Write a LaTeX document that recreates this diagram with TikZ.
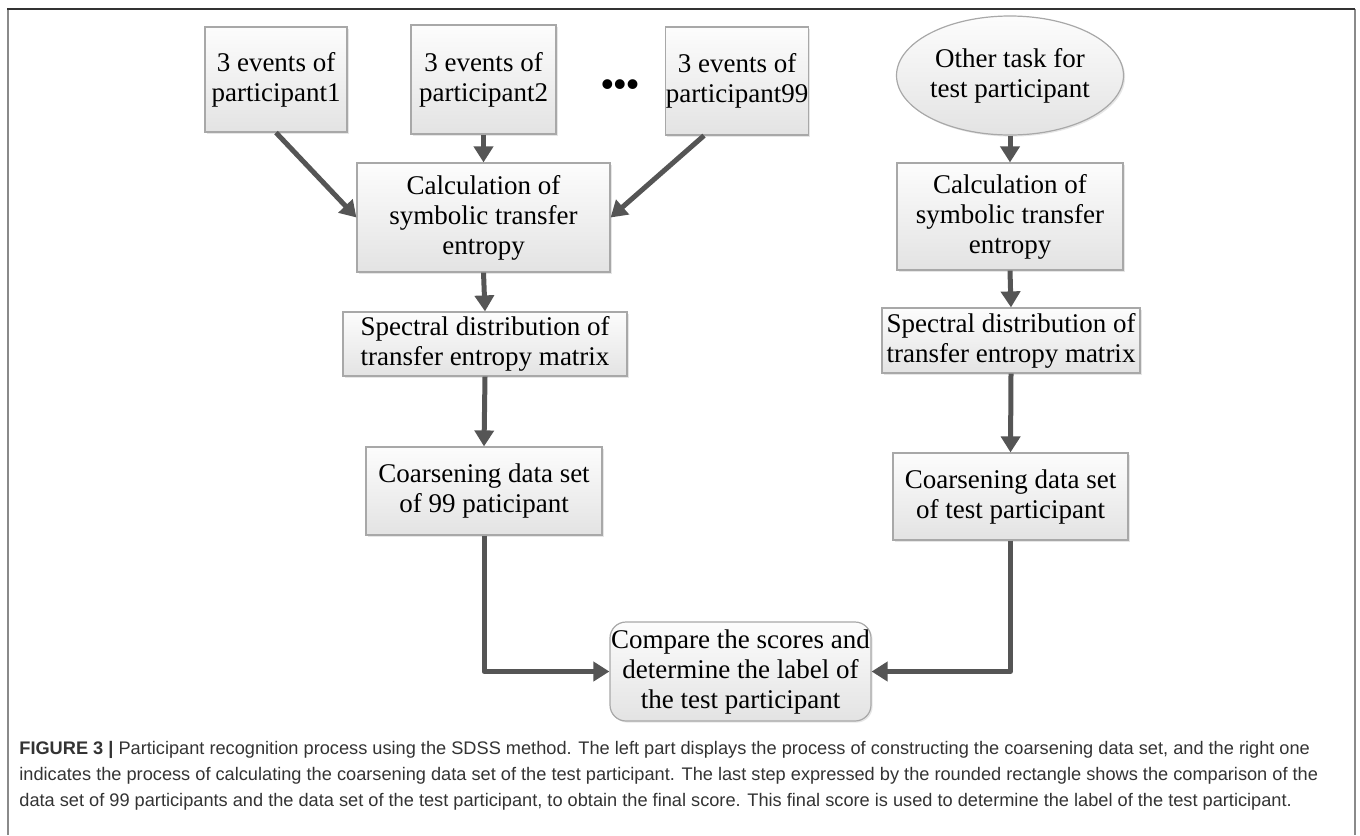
\documentclass[tikz,border=0pt]{standalone}
\usepackage{fontspec}
\setmainfont{Liberation Serif}
\newfontfamily\capfont{Liberation Sans}
\usetikzlibrary{arrows.meta,shadows,calc,shapes.geometric}
\definecolor{arrowgray}{HTML}{555555}
\definecolor{boxborder}{HTML}{A8A8A8}
\definecolor{capgray}{HTML}{333333}
\definecolor{framedark}{HTML}{333333}
\definecolor{frameside}{HTML}{8A8A8A}
\tikzset{
  sz/.style 2 args={minimum width=#1*0.5bp, minimum height=#2*0.5bp},
  box/.style={draw=boxborder, line width=0.6bp, top color=white!99!black,
    bottom color=white!89!black, inner sep=0pt, align=center,
    font=\fontsize{13.5bp}{15bp}\selectfont,
    drop shadow={shadow xshift=0.8bp, shadow yshift=-0.8bp, opacity=0.2}},
  arr/.style={draw=arrowgray, line width=2.5bp, -{Triangle[length=8bp,width=9.5bp]}},
}
\begin{document}
\begin{tikzpicture}[x=0.5bp,y=-0.5bp]
\useasboundingbox (0,0) rectangle (1360,835);
% frame
\draw[frameside, line width=1bp] (7.5,9) -- (7.5,835);
\draw[frameside, line width=1bp] (1354.5,9) -- (1354.5,835);
\draw[framedark, line width=0.8bp] (7,9) -- (1355,9);

% left column
\node[box, sz={142}{105}] (p1) at (276,79.5) {3 events of\\participant1};
\node[box, sz={145}{109}] (p2) at (483.5,79.5) {3 events of\\participant2};
\node[box, sz={134}{108}] (p99) at (737,81) {3 events of\\participant99};
\node[inner sep=0pt, font=\fontsize{18bp}{18bp}\selectfont\bfseries] (dots) at (620,88) {•••};
\node[box, sz={253}{109}] (calcL) at (483.5,217.5) {Calculation of\\symbolic transfer\\entropy};
\node[box, sz={284}{64}] (specL) at (485,344) {Spectral distribution of\\transfer entropy matrix};
\node[box, sz={236}{88}] (coarsL) at (484,491) {Coarsening data set\\of 99 paticipant};

% right column
\node[box, ellipse, sz={227}{119}] (task) at (1010,75.5) {Other task for\\test participant};
\node[box, sz={226}{107}] (calcR) at (1010,216.5) {Calculation of\\symbolic transfer\\entropy};
\node[box, sz={258}{65}] (specR) at (1011,340.5) {Spectral distribution of\\transfer entropy matrix};
\node[box, sz={235}{87}] (coarsR) at (1010.5,496.5) {Coarsening data set\\of test participant};

% compare
\node[box, rounded corners=8bp, sz={261}{99}] (cmp) at (740.5,671.5) {Compare the scores and\\determine the label of\\the test participant};

% arrows
\draw[arr] (p1.south) -- (calcL.west);
\draw[arr] (p2.south) -- (calcL.north);
\draw[arr] ([xshift=-16.5bp]p99.south) -- (calcL.east);
\draw[arr] (calcL.south) -- (specL.north);
\draw[arr] (specL.south) -- (coarsL.north);
\draw[arr] (task.south) -- (calcR.north);
\draw[arr] (calcR.south) -- (specR.north);
\draw[arr] (specR.south) -- (coarsR.north);
\draw[arr, line join=round] (coarsL.south) |- (cmp.west);
\draw[arr, line join=round] (coarsR.south) |- (cmp.east);

% caption
\node[anchor=north west, inner sep=0pt, align=left, text=capgray,
  font=\capfont\fontsize{9.1bp}{13bp}\selectfont] (cap) at (19,741)
  {{\bfseries FIGURE 3 |} Participant recognition process using the SDSS method. The left part displays the process of constructing the coarsening data set, and the right one\\
  indicates the process of calculating the coarsening data set of the test participant. The last step expressed by the rounded rectangle shows the comparison of the\\
  data set of 99 participants and the data set of the test participant, to obtain the final score. This final score is used to determine the label of the test participant.};
\end{tikzpicture}
\end{document}
